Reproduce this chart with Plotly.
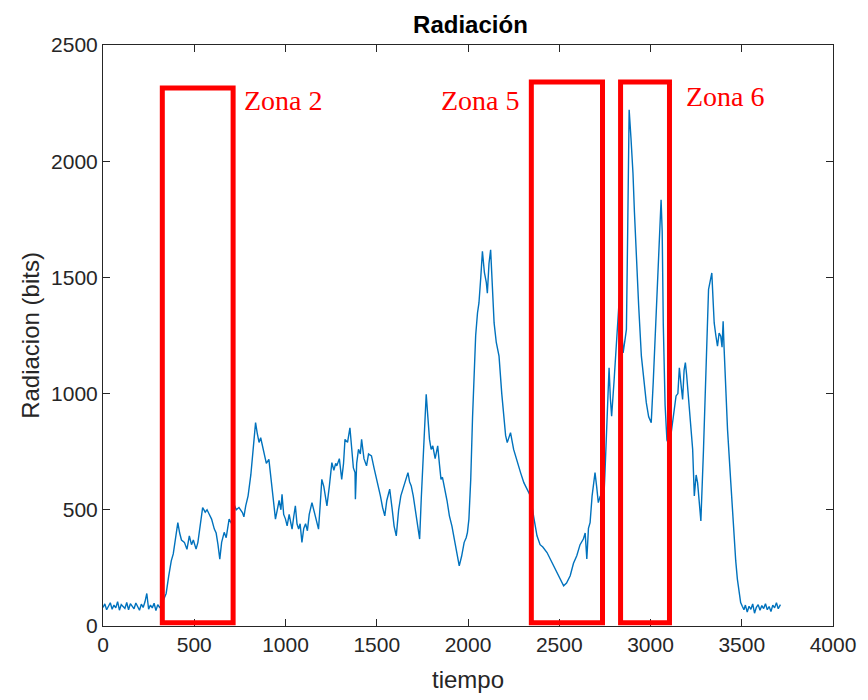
import plotly.graph_objects as go

# ---- data ----
tiempo = [
    0, 10, 20, 30, 40, 50, 60, 70, 80, 90, 100, 110, 120, 130, 140, 150, 160, 170, 180, 190,
    200, 210, 220, 230, 240, 250, 260, 270, 280, 290, 300, 310, 320,
    330, 346, 360, 374, 385, 395, 410, 420, 430, 446, 460, 473, 485, 495, 510, 520, 530, 546,
    560, 570, 582, 595, 610, 620, 630, 640, 650, 664, 675, 691, 705, 718,
    730, 745, 764, 772, 782, 795, 810, 822, 836, 845, 855, 864, 873, 885, 895, 909, 920, 930,
    945, 955, 965, 975, 981, 990, 1000, 1009, 1020, 1030, 1036, 1045, 1054, 1063, 1072, 1080,
    1090, 1100, 1110, 1120, 1130, 1145, 1155, 1165, 1181, 1190, 1199, 1210, 1220, 1227, 1240,
    1254, 1265, 1275, 1281, 1295, 1308, 1318, 1326, 1340, 1353, 1362, 1372, 1381, 1383, 1390,
    1400, 1410, 1417, 1430, 1444, 1455, 1471, 1485, 1498, 1508, 1520, 1532, 1544, 1555, 1571,
    1585, 1595, 1607, 1620, 1632, 1644, 1655, 1671, 1680, 1689, 1700, 1708, 1716, 1725, 1735,
    1744, 1753, 1762, 1771, 1780, 1789, 1798, 1807, 1820, 1834, 1843, 1852, 1860, 1870, 1885,
    1898, 1912, 1925, 1938, 1952, 1965, 1979, 1990, 1997, 2005, 2015, 2025, 2033, 2042, 2052,
    2060, 2070, 2079, 2090, 2100, 2106, 2115, 2124, 2133, 2143, 2155, 2170, 2185, 2197, 2206,
    2215, 2225, 2233, 2250, 2270, 2288, 2306, 2325, 2342, 2360, 2378, 2395, 2410, 2433, 2450,
    2470, 2487, 2505, 2524, 2540, 2550, 2560, 2578, 2596, 2614, 2632, 2642, 2651, 2660, 2669,
    2680, 2690, 2696, 2705, 2714, 2725, 2741, 2750, 2759, 2766, 2773, 2780, 2787, 2800, 2815,
    2832, 2841, 2850, 2860, 2868, 2875, 2883, 2893, 2904, 2912, 2922, 2935, 2950, 2965, 2977,
    2990, 3004, 3015, 3031, 3045, 3058, 3064, 3070, 3080, 3090, 3104, 3120, 3140, 3150, 3158,
    3167, 3176, 3184, 3191, 3198, 3204, 3215, 3231, 3240, 3250, 3258, 3267, 3276, 3290, 3303,
    3310, 3318, 3326, 3336, 3343, 3349, 3358, 3367, 3376, 3385, 3392, 3398, 3403, 3409, 3422,
    3440, 3450, 3458, 3467, 3476, 3485, 3494, 3503, 3512,
    3520, 3530, 3540, 3550, 3560, 3570, 3580, 3590, 3600, 3610, 3620, 3630, 3640, 3650, 3660,
    3670, 3680, 3690, 3700, 3712,
]
radiacion = [
    80, 95, 70, 88, 100, 72, 90, 78, 105, 68, 92, 84, 76, 101, 70, 96, 82, 74, 99, 86,
    68, 94, 80, 104, 140, 72, 90, 78, 98, 66, 92, 80, 88,
    110, 140, 215, 280, 310, 360, 445, 400, 370, 360, 330, 388, 350, 370, 331, 360, 420, 510,
    490, 500, 481, 460, 417, 400, 350, 288, 360, 403, 380, 460, 440, 524,
    500, 510, 488, 470, 517, 560, 650, 760, 875, 830, 790, 810, 775, 740, 700, 717, 640, 560,
    460, 500, 540, 500, 567, 480, 460, 431, 480, 440, 417, 470, 517, 440, 417, 440,
    360, 420, 440, 410, 480, 531, 500, 470, 417, 520, 631, 600, 550, 517, 600,
    703, 670, 700, 689, 720, 631, 700, 803, 790, 853, 760, 680, 660, 545, 700,
    760, 740, 803, 720, 689, 740, 732, 680, 640, 603, 560, 510, 474, 540, 589,
    500, 430, 388, 500, 560, 589, 620, 660, 620, 603, 560, 520, 488, 430, 374,
    550, 703, 880, 997, 900, 803, 760, 775, 720, 775, 700, 631, 640, 603, 540,
    474, 430, 374, 320, 259, 300, 360, 380, 403, 460, 631, 900, 1061, 1250, 1347,
    1390, 1500, 1612, 1520, 1480, 1432, 1560, 1619, 1450, 1304, 1220, 1161, 1000, 875, 820,
    789, 820, 832, 760, 703, 660, 617, 590, 560, 470, 388, 350, 340, 316, 290,
    260, 230, 200, 173, 185, 200, 216, 270, 302, 350, 374, 400, 288, 420, 445,
    560, 620, 660, 600, 531, 560, 488, 650, 846, 1000, 1111, 980, 903, 1050, 1250,
    1448, 1300, 1175, 1230, 1276, 1700, 2221, 2100, 1948, 1780, 1591, 1380, 1161, 1050, 961,
    900, 875, 1050, 1362, 1580, 1834, 1700, 1300, 950, 800, 775, 880, 990, 1000, 1111,
    1040, 975, 1100, 1133, 1080, 1018, 900, 760, 560, 650, 617, 540, 452, 750, 1047,
    1250, 1448, 1480, 1519, 1400, 1304, 1250, 1204, 1260, 1247, 1200, 1311, 1200, 1075, 846,
    617, 480, 360, 280, 202, 140, 101, 85, 70,
    90, 60, 85, 72, 95, 55, 80, 92, 68, 88, 75, 96, 70, 84, 62,
    90, 78, 100, 74, 92,
]

x_ticks = [0, 500, 1000, 1500, 2000, 2500, 3000, 3500, 4000]
y_ticks = [0, 500, 1000, 1500, 2000, 2500]

zona_names = ["Zona 2", "Zona 5", "Zona 6"]
zona_x0 = [325, 2347, 2836]
zona_x1 = [713, 2737, 3104]
zona_top = [2315, 2341, 2341]
zona_bottom = [14, 14, 14]

label_x = [762, 2294, 3183]
label_y = [2262, 2262, 2280]
label_anchor = ["left", "right", "left"]

AX = "#262626"

fig = go.Figure()
fig.add_trace(go.Scatter(x=tiempo, y=radiacion, mode="lines",
                         line=dict(color="#0072BD", width=1.4), showlegend=False))

for i, name in enumerate(zona_names):
    fig.add_shape(type="rect", xref="x", yref="y",
                  x0=zona_x0[i], x1=zona_x1[i], y0=zona_bottom[i], y1=zona_top[i],
                  line=dict(color="#FF0000", width=5), fillcolor="rgba(0,0,0,0)")
    fig.add_annotation(x=label_x[i], y=label_y[i], xref="x", yref="y", text=name,
                       showarrow=False, xanchor=label_anchor[i], yanchor="middle",
                       font=dict(family="Liberation Serif, Times New Roman, serif",
                                 size=28, color="#FF0000"))

axis_common = dict(showline=True, linecolor=AX, linewidth=1, mirror="ticks",
                   ticks="inside", ticklen=7, tickcolor=AX, tickwidth=1,
                   showgrid=False, zeroline=False,
                   tickfont=dict(family="Liberation Sans, Arial, sans-serif", size=21, color=AX))

fig.update_layout(
    width=868, height=700,
    margin=dict(l=103, r=30, t=45, b=73),
    plot_bgcolor="white", paper_bgcolor="white",
    title=dict(text="<b>Radiación</b>", x=0.542, xanchor="center",
               y=1 - 25 / 700, yref="container", yanchor="middle",
               font=dict(family="Liberation Sans, Arial, sans-serif", size=24, color="#000000")),
    xaxis=dict(range=[0, 4000], tickvals=x_ticks, ticktext=[str(v) for v in x_ticks],
               title=dict(text="tiempo", standoff=15,
                          font=dict(family="Liberation Sans, Arial, sans-serif", size=24, color=AX)),
               **axis_common),
    yaxis=dict(range=[0, 2500], tickvals=y_ticks, ticktext=[str(v) for v in y_ticks],
               title=dict(text="Radiacion (bits)", standoff=4,
                          font=dict(family="Liberation Sans, Arial, sans-serif", size=24, color=AX)),
               **axis_common),
)

fig.write_html("out.html")
